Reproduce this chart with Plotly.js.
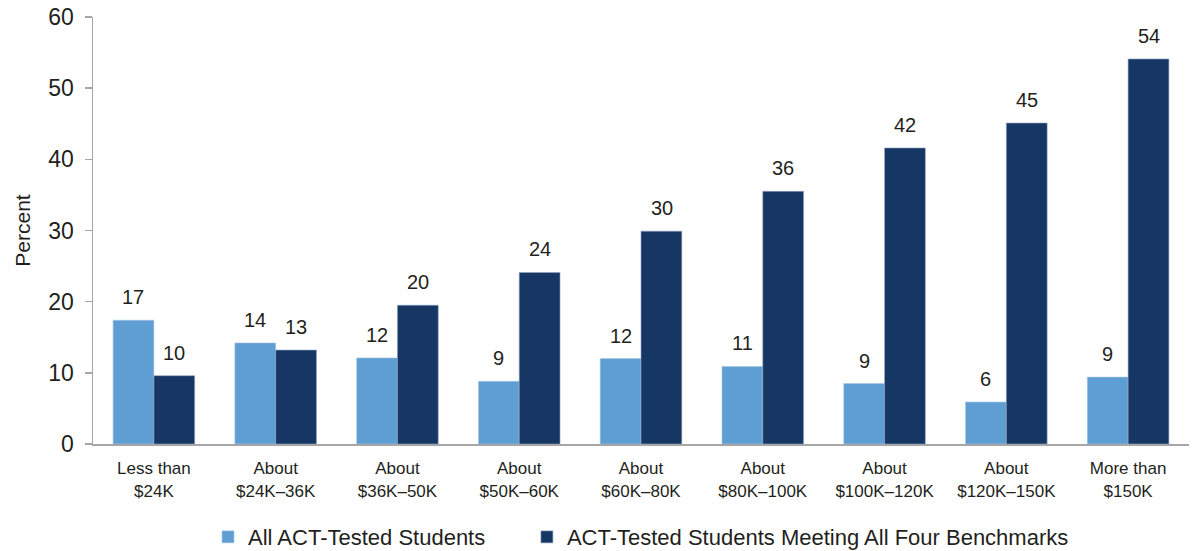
<!DOCTYPE html>
<html>
<head>
<meta charset="utf-8">
<script src="https://cdn.plot.ly/plotly-3.0.1.min.js"></script>
<style>html,body{margin:0;padding:0;background:#fff;}#chart{width:1192px;height:551px;}</style>
</head>
<body>
<div id="chart"></div>
<script>
const categories = ["Less than<br>$24K","About<br>$24K–36K","About<br>$36K–50K","About<br>$50K–60K","About<br>$60K–80K","About<br>$80K–100K","About<br>$100K–120K","About<br>$120K–150K","More than<br>$150K"];
const allStudents = [17.4, 14.2, 12.1, 8.8, 12.0, 10.9, 8.5, 5.9, 9.4];
const meetingAll = [9.6, 13.2, 19.5, 24.1, 29.9, 35.5, 41.6, 45.1, 54.1];
const allLabels = ["17","14","12","9","12","11","9","6","9"];
const meetingLabels = ["10","13","20","24","30","36","42","45","54"];
const seriesNames = ["All ACT-Tested Students","ACT-Tested Students Meeting All Four Benchmarks"];
const yTicks = [0,10,20,30,40,50,60];

const lightColor = "#5f9ed3";
const darkColor = "#163764";
const textColor = "#231f20";
const font = "Liberation Sans, Arial, sans-serif";
const pad = "\u00a0\u00a0\u00a0\u00a0\u00a0\u00a0";

const traces = [
  {type:"bar", x:categories, y:allStudents, name:seriesNames[0] + pad,
   marker:{color:lightColor, line:{color:"#a9c8e6", width:0.6}}, hoverinfo:"skip"},
  {type:"bar", x:categories, y:meetingAll, name:seriesNames[1],
   marker:{color:darkColor, line:{color:"#8fa5c2", width:0.6}}, hoverinfo:"skip"}
];

const annotations = [];
categories.forEach((c,i)=>{
  annotations.push({x:c, y:allStudents[i], text:allLabels[i], xref:"x", yref:"y",
    showarrow:false, xshift:-20.5, yshift:10, yanchor:"bottom",
    font:{family:font, size:20, color:textColor}});
  annotations.push({x:c, y:meetingAll[i], text:meetingLabels[i], xref:"x", yref:"y",
    showarrow:false, xshift:20.5, yshift:10, yanchor:"bottom",
    font:{family:font, size:20, color:textColor}});
});

const layout = {
  width:1192, height:551,
  margin:{l:93, r:3, t:17, b:107, autoexpand:false},
  paper_bgcolor:"#fff", plot_bgcolor:"#fff",
  barmode:"group", bargap:0.33, bargroupgap:0,
  font:{family:font, color:textColor},
  showlegend:true,
  legend:{orientation:"h", x:0.5, xanchor:"center", y:-0.218, yanchor:"middle",
    font:{family:font, size:22, color:textColor}, itemwidth:30, traceorder:"normal"},
  xaxis:{type:"category", showline:true, linecolor:"#a6a6a6", linewidth:2,
    ticks:"", showgrid:false, zeroline:false, ticklabelstandoff:8,
    tickfont:{family:font, size:17, color:textColor}},
  yaxis:{range:[0,60], tickvals:yTicks, showline:true, linecolor:"#a6a6a6", linewidth:1.5,
    ticks:"outside", ticklen:7, tickcolor:"#a6a6a6", tickwidth:1.5, showgrid:false, zeroline:false,
    ticklabelstandoff:6,
    tickfont:{family:font, size:23, color:textColor},
    title:{text:"Percent", font:{family:font, size:21, color:textColor}, standoff:12}},
  annotations:annotations
};

Plotly.newPlot("chart", traces, layout, {displayModeBar:false, staticPlot:true});
</script>
</body>
</html>
